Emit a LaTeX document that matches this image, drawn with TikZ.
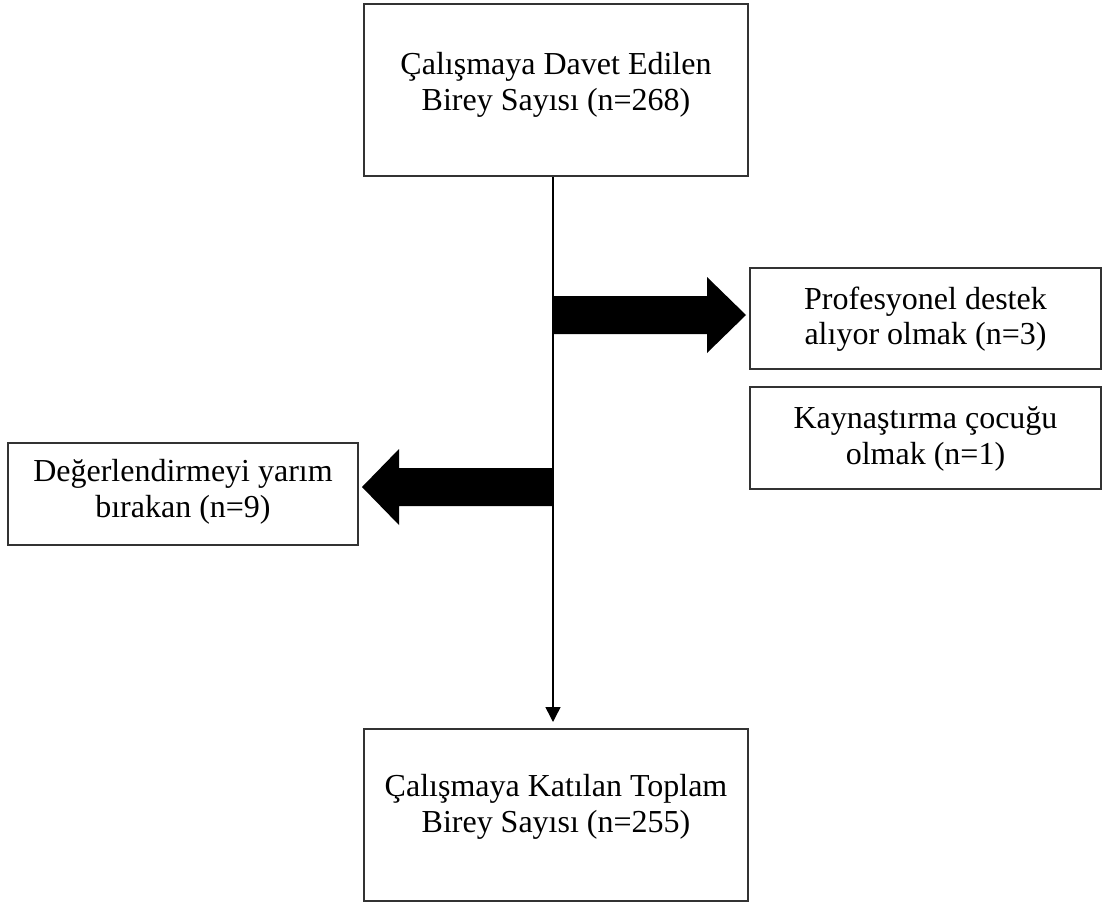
\documentclass[tikz,border=0pt]{standalone}
\usepackage{fontspec}
\setmainfont{Liberation Serif}
\usetikzlibrary{arrows.meta}
\begin{document}
\begin{tikzpicture}[x=1pt,y=-1pt,
  box/.style={draw=black!80, line width=2pt, rectangle, inner sep=0pt},
  txt/.style={align=center, inner sep=0pt, font=\fontsize{32}{35.5}\selectfont},
  bigarrow/.style={fill=black, draw=none},
  flow/.style={line width=1.5pt, -{Triangle[width=15pt,length=15pt]}}]
\useasboundingbox (0,0) rectangle (1104,905);
% boxes
\node[box, minimum width=384, minimum height=172] (top) at (556,90) {};
\node[txt] (toptext) at (556,85) {Çalışmaya Davet Edilen\\Birey Sayısı (n=268)};
\node[box, minimum width=384, minimum height=172] (bottom) at (556,815) {};
\node[txt] (bottomtext) at (556,807) {Çalışmaya Katılan Toplam\\Birey Sayısı (n=255)};
\node[box, minimum width=351, minimum height=101] (prof) at (925.5,318) {};
\node[txt] (proftext) at (925.5,319) {Profesyonel destek\\alıyor olmak (n=3)};
\node[box, minimum width=351, minimum height=102] (kayn) at (925.5,438) {};
\node[txt] (kayntext) at (925.5,439) {Kaynaştırma çocuğu\\olmak (n=1)};
\node[box, minimum width=350, minimum height=102] (yarim) at (183,494) {};
\node[txt] (yarimtext) at (183,492) {Değerlendirmeyi yarım\\bırakan (n=9)};
% main flow
\draw[flow, shorten >=6pt] (top.south -| 553,0) -- (bottom.north -| 553,0);
% thick arrows
\coordinate (rstart) at (553,315);
\coordinate (rtip) at (746,315);
\coordinate (lstart) at (553,487);
\coordinate (ltip) at (362,487);
\fill[bigarrow] ([yshift=-19pt]rstart) -- ([xshift=-39pt,yshift=-19pt]rtip) -- ([xshift=-39pt,yshift=-38pt]rtip) -- (rtip)
  -- ([xshift=-39pt,yshift=38pt]rtip) -- ([xshift=-39pt,yshift=19pt]rtip) -- ([yshift=19pt]rstart) -- cycle;
\fill[bigarrow] ([yshift=-19pt]lstart) -- ([xshift=37pt,yshift=-19pt]ltip) -- ([xshift=37pt,yshift=-38pt]ltip) -- (ltip)
  -- ([xshift=37pt,yshift=38pt]ltip) -- ([xshift=37pt,yshift=19pt]ltip) -- ([yshift=19pt]lstart) -- cycle;
\end{tikzpicture}
\end{document}
